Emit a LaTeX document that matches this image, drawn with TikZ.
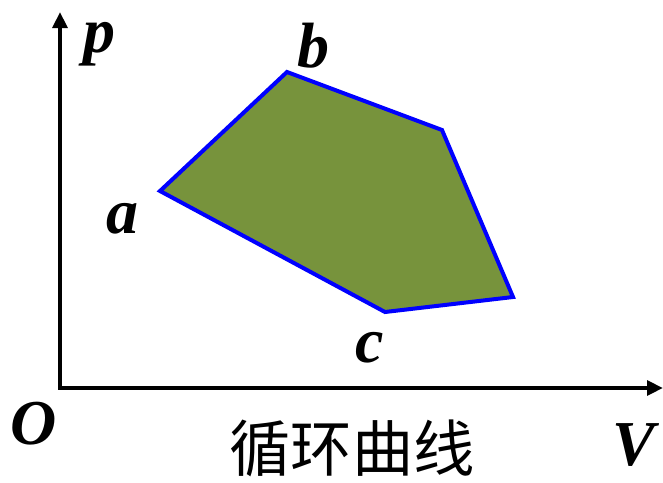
\documentclass[tikz,border=0pt]{standalone}
\usepackage{fontspec}
\setmainfont{Liberation Serif}
\newfontfamily\cjk{Noto Sans CJK SC}
\usetikzlibrary{arrows.meta}
\begin{document}
\begin{tikzpicture}[x=0.75pt,y=-0.75pt,
  axis/.style={line width=3pt,-{Triangle[length=12pt,width=11pt]}},
  lbl/.style={font=\fontsize{48}{48}\selectfont\bfseries\itshape,anchor=base,inner sep=0pt},
  cyc/.style={fill={rgb,255:red,119;green,147;blue,60},draw={rgb,255:red,0;green,0;blue,255},line width=3pt,line join=miter}]
\useasboundingbox (0,0) rectangle (663,482);
\coordinate (O) at (60,388);
\coordinate (ytip) at (60,12);
\coordinate (xtip) at (663,388);
\draw[axis] ([yshift=1.5pt]O) -- (ytip);
\draw[axis] ([xshift=-1.5pt]O) -- (xtip);
\coordinate (a) at (160,191);
\coordinate (b) at (287,72);
\coordinate (d) at (442,130);
\coordinate (e) at (513,297);
\coordinate (c) at (385,312);
\draw[cyc] (a) -- (b) -- (d) -- (e) -- (c) -- cycle;
\node[lbl] (lp) at (99,52) {p};
\node[lbl] (lb) at (313,67) {b};
\node[lbl] (la) at (122,233) {a};
\node[lbl] (lc) at (370,362) {c};
\node[lbl] (lO) at (34,444) {O};
\node[lbl] (lV) at (634,465) {V};
\node[font=\cjk\fontsize{46}{46}\selectfont,inner sep=0pt] (title) at (352,448) {循环曲线};
\end{tikzpicture}
\end{document}
